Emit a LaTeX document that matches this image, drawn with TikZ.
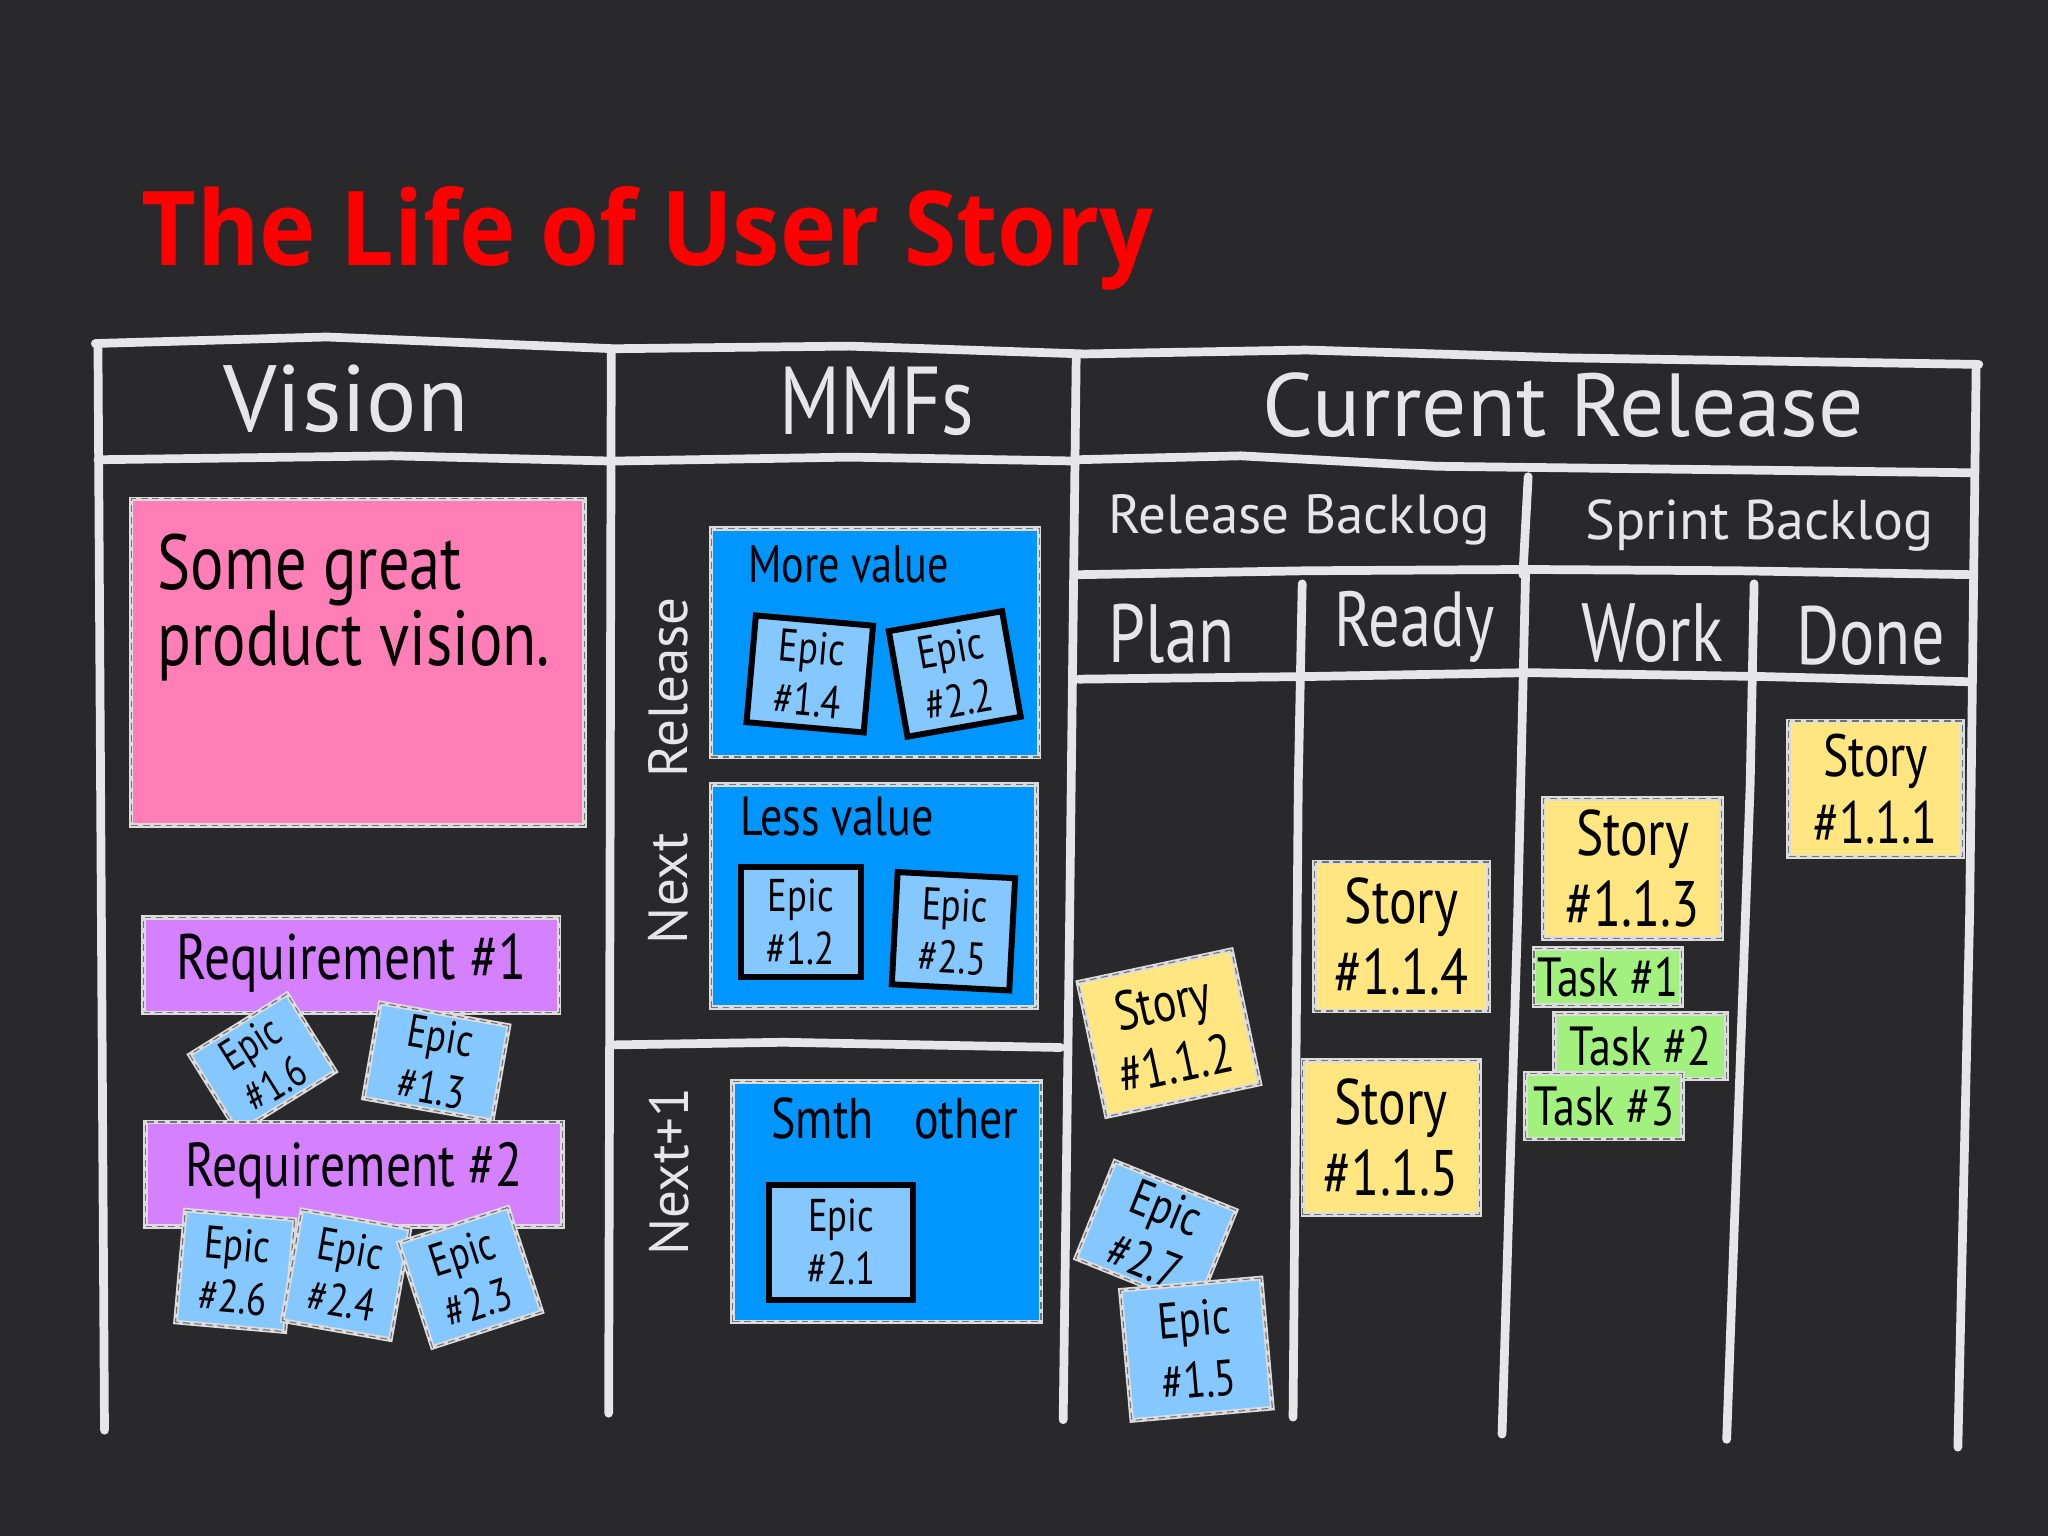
\documentclass[tikz,border=0pt]{standalone}
\usepackage{fontspec}
\newfontfamily\hand[FakeStretch=0.8]{PT Sans}
\newfontfamily\headfont{PT Sans}
\newfontfamily\titlefont[FakeStretch=0.92]{Open Sans}
\newcommand\hf[2]{\hand\fontsize{#1}{#2}\selectfont}
\definecolor{bg}{HTML}{29292B}
\definecolor{chalk}{HTML}{E6E6E8}
\definecolor{edge}{HTML}{DCDCDE}
\definecolor{titlered}{HTML}{FF0000}
\definecolor{pinknote}{HTML}{FF7EB6}
\definecolor{purplenote}{HTML}{D580FF}
\definecolor{epicblue}{HTML}{85C8FF}
\definecolor{mmfblue}{HTML}{0096FF}
\definecolor{storyyellow}{HTML}{FFE680}
\definecolor{taskgreen}{HTML}{A2F07E}
\tikzset{
  board/.style={draw=chalk, line width=1.9pt, line cap=round, line join=round},
  note/.style={draw=edge, line width=1pt, inner sep=0pt, align=center, text=black,
    postaction={draw=black!55, line width=0.25pt, dash pattern=on 1.5pt off 1pt}},
  epic/.style={note, fill=epicblue, font=\hf{10}{11.5}},
  boxepic/.style={fill=epicblue, font=\hf{10}{11.5}, draw=black, line width=1.3pt, inner sep=0pt, align=center, text=black},
  story/.style={note, fill=storyyellow, font=\hf{14}{15.5}},
  task/.style={note, fill=taskgreen, font=\hf{12}{13}},
  req/.style={note, fill=purplenote},
  mmf/.style={note, fill=mmfblue},
  head/.style={text=chalk, inner sep=0pt},
  label/.style={text=black, inner sep=0pt, anchor=base west}
}
\begin{document}
\begin{tikzpicture}[x=0.01cm,y=-0.01cm]
\fill[bg] (0,0) rectangle (1568,1176);
\useasboundingbox (0,0) rectangle (1568,1176);

% title
\node[text=titlered, anchor=base west, inner sep=0pt, font=\titlefont\bfseries\fontsize{22.5}{26}\selectfont] (title) at (108,203) {The Life of User Story};

% board lines
\draw[board] (73,263) -- (250,258) -- (470,267) -- (650,265) -- (830,271) -- (1000,268) -- (1200,274) -- (1515,279);
\draw[board] (75,263) -- (77,600) -- (80,1095);
\draw[board] (468,268) -- (467,700) -- (466,1082);
\draw[board] (824,271) -- (819,700) -- (814,1087);
\draw[board] (1513,280) -- (1508,700) -- (1499,1108);
\draw[board] (75,352) -- (300,349) -- (468,353);
\draw[board] (470,353) -- (650,350) -- (824,353);
\draw[board] (824,352) -- (950,349) -- (1100,357) -- (1511,362);
\draw[board] (826,440) -- (1000,437) -- (1168,436) -- (1330,437) -- (1510,440);
\draw[board] (1170,365) -- (1166,440);
\draw[board] (826,520) -- (1000,518) -- (1170,515) -- (1350,518) -- (1509,522);
\draw[board] (997,447) -- (994,600) -- (990,1085);
\draw[board] (1168,440) -- (1162,700) -- (1150,1098);
\draw[board] (1343,447) -- (1340,600) -- (1322,1102);
\draw[board] (470,800) -- (600,798) -- (812,802);

% headers
\node[head, font=\headfont\fontsize{20.5}{21}\selectfont] (hvision) at (265,305) {Vision};
\node[head, font=\hf{21}{21}] (hmmf) at (671,307) {MMFs};
\node[head, font=\headfont\fontsize{19.5}{20}\selectfont] (hcur) at (1197,310) {Current Release};
\node[head, font=\headfont\fontsize{12}{13}\selectfont] (hrb) at (995,398) {Release Backlog};
\node[head, font=\headfont\fontsize{12.2}{13}\selectfont] (hsb) at (1347,402) {Sprint Backlog};
\node[head, font=\hf{18}{18}] (hplan) at (897,485) {Plan};
\node[head, font=\hf{17}{18}] (hready) at (1083,480) {Ready};
\node[head, font=\hf{18}{18}] (hwork) at (1265,485) {Work};
\node[head, font=\hf{18}{18}] (hdone) at (1432,487) {Done};
\node[head, rotate=90, font=\headfont\fontsize{12}{12}\selectfont] (hnext) at (512,590) {Next\quad Release};
\node[head, rotate=90, font=\headfont\fontsize{12}{12}\selectfont] (hnext1) at (512,897) {Next+1};

% vision
\node[note, fill=pinknote, minimum width=3.47cm, minimum height=2.5cm] (vis) at (274,507) {};
\node[label, anchor=north west, align=left, font=\hf{17}{15.5}] (vistext) at (120,408) {Some great\\product vision.};

% requirements and epics
\node[req, minimum width=3.18cm, minimum height=0.73cm] (req1) at (269,739) {};
\node[label, anchor=center, font=\hf{14}{16}] (req1t) at (269,737) {Requirement \#1};
\node[epic, font=\hf{9.5}{10.5}, minimum width=0.88cm, minimum height=0.7cm, rotate=32] (e16) at (201,814) {Epic\\\#1.6};
\node[epic, minimum width=1.0cm, minimum height=0.74cm, rotate=-10] (e13) at (334,813) {Epic\\\#1.3};
\node[req, minimum width=3.19cm, minimum height=0.8cm] (req2) at (271,899) {};
\node[label, anchor=center, font=\hf{13.5}{15}] (req2t) at (271,896) {Requirement \#2};
\node[epic, minimum width=0.84cm, minimum height=0.86cm, rotate=-5] (e26) at (180,973) {Epic\\\#2.6};
\node[epic, minimum width=0.84cm, minimum height=0.86cm, rotate=-10] (e24) at (265,976) {Epic\\\#2.4};
\node[epic, minimum width=0.88cm, minimum height=0.84cm, rotate=18] (e23) at (360,978) {Epic\\\#2.3};

% MMFs
\node[mmf, minimum width=2.51cm, minimum height=1.75cm] (more) at (670,492) {};
\node[label, font=\hf{11.5}{12}] (moret) at (572,446) {More value};
\node[boxepic, minimum width=0.9cm, minimum height=0.82cm, rotate=-5] (e14) at (620,516) {Epic\\\#1.4};
\node[boxepic, minimum width=0.88cm, minimum height=0.82cm, rotate=10] (e22) at (731,516) {Epic\\\#2.2};

\node[mmf, minimum width=2.49cm, minimum height=1.71cm] (less) at (669,686) {};
\node[label, font=\hf{12}{12}] (lesst) at (566,640) {Less value};
\node[boxepic, minimum width=0.92cm, minimum height=0.84cm] (e12) at (613,706) {Epic\\\#1.2};
\node[boxepic, minimum width=0.9cm, minimum height=0.86cm, rotate=-3] (e25) at (730,713) {Epic\\\#2.5};

\node[mmf, minimum width=2.36cm, minimum height=1.84cm] (smth) at (679,920) {};
\node[label, font=\hf{12.5}{13}] (smtht) at (590,872) {Smth\hspace{0.7em}other};
\node[boxepic, minimum width=1.1cm, minimum height=0.88cm] (e21) at (644,951) {Epic\\\#2.1};

% current release notes
\node[story, font=\hf{12}{13.5}, minimum width=1.2cm, minimum height=1.05cm, rotate=12] (s112) at (895,791) {Story\\\#1.1.2};
\node[epic, font=\hf{11}{12.5}, minimum width=1.0cm, minimum height=0.8cm, rotate=-22] (e27) at (885,945) {Epic\\\#2.7};
\node[epic, font=\hf{11}{13.5}, minimum width=1.08cm, minimum height=1.0cm, rotate=5] (e15) at (916,1033) {Epic\\\#1.5};

\node[story, minimum width=1.33cm, minimum height=1.14cm] (s114) at (1073,717) {Story\\\#1.1.4};
\node[story, minimum width=1.35cm, minimum height=1.18cm] (s115) at (1065,871) {Story\\\#1.1.5};
\node[story, minimum width=1.36cm, minimum height=1.07cm] (s113) at (1250,665) {Story\\\#1.1.3};
\node[task, minimum width=1.13cm, minimum height=0.44cm] (t1) at (1231,748) {Task \#1};
\node[task, minimum width=1.32cm, minimum height=0.5cm] (t2) at (1256,801) {Task \#2};
\node[task, minimum width=1.2cm, minimum height=0.5cm] (t3) at (1228,847) {Task \#3};
\node[story, font=\hf{13}{14.5}, minimum width=1.33cm, minimum height=1.04cm] (s111) at (1436,604) {Story\\\#1.1.1};
\end{tikzpicture}
\end{document}
